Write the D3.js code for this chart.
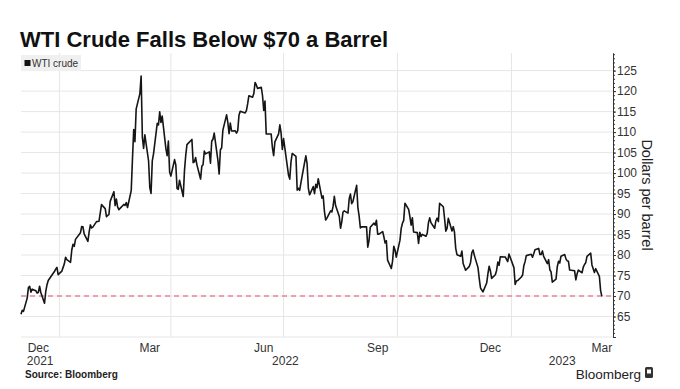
<!DOCTYPE html>
<html><head><meta charset="utf-8">
<script src="https://cdn.jsdelivr.net/npm/d3@7"></script>
<style>
body{margin:0;background:#fff}
text{font-family:"Liberation Sans",Arial,sans-serif}
</style>
</head><body>
<svg id="c" width="680" height="389"></svg>
<script>
const title = "WTI Crude Falls Below $70 a Barrel";
const seriesName = "WTI crude";
const axisTitle = "Dollars per barrel";
const sourceText = "Source: Bloomberg";
const brandText = "Bloomberg";

const dates = [
"2021-12-01","2021-12-02","2021-12-03","2021-12-06","2021-12-07","2021-12-08","2021-12-09","2021-12-10","2021-12-13","2021-12-14","2021-12-15","2021-12-16","2021-12-17","2021-12-20","2021-12-21","2021-12-22","2021-12-23","2021-12-27","2021-12-28","2021-12-29","2021-12-30","2021-12-31",
"2022-01-03","2022-01-04","2022-01-05","2022-01-06","2022-01-07","2022-01-10","2022-01-11","2022-01-12","2022-01-13","2022-01-14","2022-01-18","2022-01-19","2022-01-20","2022-01-21","2022-01-24","2022-01-25","2022-01-26","2022-01-27","2022-01-28","2022-01-31",
"2022-02-01","2022-02-02","2022-02-03","2022-02-04","2022-02-07","2022-02-08","2022-02-09","2022-02-10","2022-02-11","2022-02-14","2022-02-15","2022-02-16","2022-02-17","2022-02-18","2022-02-22","2022-02-23","2022-02-24","2022-02-25","2022-02-28",
"2022-03-01","2022-03-02","2022-03-03","2022-03-04","2022-03-07","2022-03-08","2022-03-09","2022-03-10","2022-03-11","2022-03-14","2022-03-15","2022-03-16","2022-03-17","2022-03-18","2022-03-21","2022-03-22","2022-03-23","2022-03-24","2022-03-25","2022-03-28","2022-03-29","2022-03-30","2022-03-31",
"2022-04-01","2022-04-04","2022-04-05","2022-04-06","2022-04-07","2022-04-08","2022-04-11","2022-04-12","2022-04-13","2022-04-14","2022-04-18","2022-04-19","2022-04-20","2022-04-21","2022-04-22","2022-04-25","2022-04-26","2022-04-27","2022-04-28","2022-04-29",
"2022-05-02","2022-05-03","2022-05-04","2022-05-05","2022-05-06","2022-05-09","2022-05-10","2022-05-11","2022-05-12","2022-05-13","2022-05-16","2022-05-17","2022-05-18","2022-05-19","2022-05-20","2022-05-23","2022-05-24","2022-05-25","2022-05-26","2022-05-27","2022-05-31",
"2022-06-01","2022-06-02","2022-06-03","2022-06-06","2022-06-07","2022-06-08","2022-06-09","2022-06-10","2022-06-13","2022-06-14","2022-06-15","2022-06-16","2022-06-17","2022-06-21","2022-06-22","2022-06-23","2022-06-24","2022-06-27","2022-06-28","2022-06-29","2022-06-30",
"2022-07-01","2022-07-05","2022-07-06","2022-07-07","2022-07-08","2022-07-11","2022-07-12","2022-07-13","2022-07-14","2022-07-15","2022-07-18","2022-07-19","2022-07-20","2022-07-21","2022-07-22","2022-07-25","2022-07-26","2022-07-27","2022-07-28","2022-07-29",
"2022-08-01","2022-08-02","2022-08-03","2022-08-04","2022-08-05","2022-08-08","2022-08-09","2022-08-10","2022-08-11","2022-08-12","2022-08-15","2022-08-16","2022-08-17","2022-08-18","2022-08-19","2022-08-22","2022-08-23","2022-08-24","2022-08-25","2022-08-26","2022-08-29","2022-08-30","2022-08-31",
"2022-09-01","2022-09-02","2022-09-06","2022-09-07","2022-09-08","2022-09-09","2022-09-12","2022-09-13","2022-09-14","2022-09-15","2022-09-16","2022-09-19","2022-09-20","2022-09-21","2022-09-22","2022-09-23","2022-09-26","2022-09-27","2022-09-28","2022-09-29","2022-09-30",
"2022-10-03","2022-10-04","2022-10-05","2022-10-06","2022-10-07","2022-10-10","2022-10-11","2022-10-12","2022-10-13","2022-10-14","2022-10-17","2022-10-18","2022-10-19","2022-10-20","2022-10-21","2022-10-24","2022-10-25","2022-10-26","2022-10-27","2022-10-28","2022-10-31",
"2022-11-01","2022-11-02","2022-11-03","2022-11-04","2022-11-07","2022-11-08","2022-11-09","2022-11-10","2022-11-11","2022-11-14","2022-11-15","2022-11-16","2022-11-17","2022-11-18","2022-11-21","2022-11-22","2022-11-23","2022-11-25","2022-11-28","2022-11-29","2022-11-30",
"2022-12-01","2022-12-02","2022-12-05","2022-12-06","2022-12-07","2022-12-08","2022-12-09","2022-12-12","2022-12-13","2022-12-14","2022-12-15","2022-12-16","2022-12-19","2022-12-20","2022-12-21","2022-12-22","2022-12-23","2022-12-27","2022-12-28","2022-12-29","2022-12-30",
"2023-01-03","2023-01-04","2023-01-05","2023-01-06","2023-01-09","2023-01-10","2023-01-11","2023-01-12","2023-01-13","2023-01-17","2023-01-18","2023-01-19","2023-01-20","2023-01-23","2023-01-24","2023-01-25","2023-01-26","2023-01-27","2023-01-30","2023-01-31",
"2023-02-01","2023-02-02","2023-02-03","2023-02-06","2023-02-07","2023-02-08","2023-02-09","2023-02-10","2023-02-13","2023-02-14","2023-02-15","2023-02-16","2023-02-17","2023-02-21","2023-02-22","2023-02-23","2023-02-24","2023-02-27","2023-02-28",
"2023-03-01","2023-03-02","2023-03-03","2023-03-06","2023-03-07","2023-03-08","2023-03-09","2023-03-10","2023-03-13","2023-03-14","2023-03-15"
];
const prices = [
65.57,66.50,66.26,69.49,72.05,72.36,70.94,71.67,71.29,70.73,70.87,72.38,70.86,68.23,71.12,72.76,73.79,75.57,75.98,76.56,76.99,75.21,
76.08,76.99,77.85,79.46,78.90,78.23,81.22,82.64,82.12,83.82,85.43,86.96,86.90,85.14,83.31,85.60,87.35,86.61,86.82,88.15,
88.20,88.26,90.27,92.31,91.32,89.36,89.66,89.88,93.10,95.46,92.07,93.66,91.76,91.07,92.35,92.10,92.81,91.59,95.72,
103.41,110.60,107.67,115.68,119.40,123.70,108.70,106.02,109.33,103.01,96.44,95.04,102.98,104.70,112.12,111.76,114.93,112.34,113.90,105.96,104.24,107.82,100.28,
99.27,103.28,101.96,96.23,96.03,98.26,94.29,100.60,104.25,106.95,108.21,102.56,102.75,103.79,102.07,98.54,101.70,102.02,105.36,104.69,
105.17,102.41,107.81,108.26,109.77,103.09,99.76,105.71,106.13,110.49,114.20,112.40,109.59,112.21,110.28,110.29,109.77,110.33,114.09,115.07,114.67,
115.26,116.87,118.87,118.50,119.41,122.11,121.51,120.67,120.93,118.93,115.31,117.59,109.56,109.52,106.19,104.27,107.62,109.57,111.76,109.78,105.76,
108.43,99.50,98.53,102.73,104.79,104.09,95.84,96.30,95.78,97.59,102.60,104.22,102.26,96.35,94.70,96.70,94.98,97.26,96.42,98.62,
93.89,94.42,90.66,88.54,89.01,90.76,90.50,91.93,94.34,92.09,89.41,86.53,88.11,90.50,90.77,90.23,93.74,94.89,92.52,93.06,97.01,91.64,89.55,
86.61,86.87,86.88,81.94,83.54,86.79,87.78,87.31,88.48,85.10,85.11,85.73,84.45,82.94,83.49,78.74,76.71,78.50,82.15,81.23,79.49,
83.63,86.52,87.76,88.45,92.64,91.13,89.35,87.27,89.11,85.61,85.46,82.82,85.55,84.51,85.05,84.58,85.32,87.91,89.08,87.90,86.53,
88.37,89.00,88.17,92.61,91.79,88.91,85.83,86.47,88.96,85.87,86.92,85.59,81.64,80.08,79.73,80.95,77.94,76.28,77.24,78.20,80.55,
81.22,79.98,76.93,74.25,72.01,71.46,71.02,73.17,75.39,77.28,76.11,74.29,75.19,76.23,78.29,77.49,79.56,79.53,78.96,78.40,80.26,
76.93,72.84,73.67,73.77,74.63,75.12,77.41,78.39,79.86,80.18,79.48,80.33,81.31,81.62,80.13,80.15,81.01,79.68,77.90,78.87,
76.41,75.88,73.39,74.11,77.14,78.47,78.06,79.72,80.14,79.06,78.59,78.49,76.34,76.16,73.95,75.39,76.32,75.68,77.05,
77.69,78.16,79.68,80.46,77.58,76.66,75.72,76.68,74.80,71.33,69.90
];

const yTicks = [65,70,75,80,85,90,95,100,105,110,115,120,125];
const yGrid = [60,65,70,75,80,85,90,95,100,105,110,115,120,125];
const monthTickDates = ["2021-12-15","2022-03-15","2022-06-15","2022-09-15","2022-12-15","2023-03-15"];
const monthLabels = ["Dec","Mar","Jun","Sep","Dec","Mar"];
const gridDates = ["2022-01-01","2022-04-01","2022-07-01","2022-10-01","2023-01-01"];
const years = [2021,2022,2023];
const refValue = 70;

const parse = d3.utcParse("%Y-%m-%d");
const data = dates.map((d,i)=>({date:parse(d), v:prices[i]}));

const L=21, R=613, T=53, B=337;
const x = d3.scaleUtc().domain([parse("2021-12-01"), parse("2023-03-24")]).range([L, R]);
const y = d3.scaleLinear().domain([60, 129.3]).range([B, T]);

const svg = d3.select("#c");
svg.append("rect").attr("width",680).attr("height",389).attr("fill","#fff");

// title
svg.append("text").attr("x",20).attr("y",47).attr("font-size",22).attr("font-weight","bold")
  .attr("fill","#111").text(title);

// grid
const g = svg.append("g");
g.selectAll(".hg").data(yGrid).join("line")
  .attr("x1",L).attr("x2",R).attr("y1",d=>y(d)).attr("y2",d=>y(d))
  .attr("stroke","#e6e6e6").attr("stroke-width",1);
g.selectAll(".vg").data(gridDates).join("line")
  .attr("x1",d=>x(parse(d))).attr("x2",d=>x(parse(d))).attr("y1",T).attr("y2",B)
  .attr("stroke","#e6e6e6").attr("stroke-width",1);

// legend
svg.append("rect").attr("x",21).attr("y",55).attr("width",60).attr("height",16).attr("fill","#f0f0f0");
svg.append("rect").attr("x",24.5).attr("y",60).attr("width",6).attr("height",6).attr("fill","#111");
svg.append("text").attr("x",32).attr("y",66.5).attr("font-size",10).attr("fill","#333").text(seriesName);

// reference line
svg.append("line").attr("x1",L).attr("x2",R-1).attr("y1",y(refValue)).attr("y2",y(refValue))
  .attr("stroke","#e8879a").attr("stroke-width",1.3).attr("stroke-dasharray","5,4");

// series
svg.append("path").datum(data)
  .attr("d", d3.line().x(d=>x(d.date)).y(d=>y(d.v)))
  .attr("fill","none").attr("stroke","#151515").attr("stroke-width",1.6).attr("stroke-linejoin","round");

// right axis
const minor = svg.append("g").attr("transform",`translate(${R},0)`)
  .call(d3.axisRight(y).tickValues(d3.range(60,130,1)).tickSize(2).tickSizeOuter(0).tickFormat(""));
const major = svg.append("g").attr("transform",`translate(${R},0)`)
  .call(d3.axisRight(y).tickValues(yGrid).tickSize(3).tickPadding(1).tickSizeOuter(0)
    .tickFormat(d=> yTicks.includes(d) ? d : ""));
[minor,major].forEach(a=>{
  a.select(".domain").attr("stroke","#333");
  a.selectAll(".tick line").attr("stroke","#333");
});
major.selectAll(".tick text").attr("font-size",12).attr("fill","#333")
  .attr("font-family",'"Liberation Sans",Arial,sans-serif');

svg.append("text").attr("transform","translate(647,195) rotate(90)")
  .attr("text-anchor","middle").attr("dominant-baseline","central")
  .attr("font-size",14.5).attr("fill","#222").text(axisTitle);

// x labels
svg.selectAll(".ml").data(monthTickDates).join("text")
  .attr("x",d=>x(parse(d))).attr("y",352).attr("text-anchor","middle")
  .attr("font-size",12).attr("fill","#333").text((d,i)=>monthLabels[i]);
const [d0,d1] = x.domain();
svg.selectAll(".yl").data(years).join("text")
  .attr("x",yr=>{
    const a = new Date(Math.max(d0, Date.UTC(yr,0,1)));
    const b = new Date(Math.min(d1, Date.UTC(yr+1,0,1)));
    return (x(a)+x(b))/2;
  })
  .attr("y",365).attr("text-anchor","middle").attr("font-size",12).attr("fill","#333").text(d=>d);

// footer
svg.append("text").attr("x",25).attr("y",378).attr("font-size",10).attr("font-weight","bold")
  .attr("fill","#222").text(sourceText);
svg.append("text").attr("x",641).attr("y",379).attr("text-anchor","end").attr("font-size",13.5)
  .attr("font-weight",500).attr("font-family","Roboto, sans-serif").attr("fill","#222").text(brandText);
svg.append("rect").attr("x",645).attr("y",367).attr("width",8).attr("height",11).attr("rx",1.5).attr("fill","#333");
svg.append("rect").attr("x",647).attr("y",369.5).attr("width",4).attr("height",4).attr("fill","#fff");
</script>
</body></html>
